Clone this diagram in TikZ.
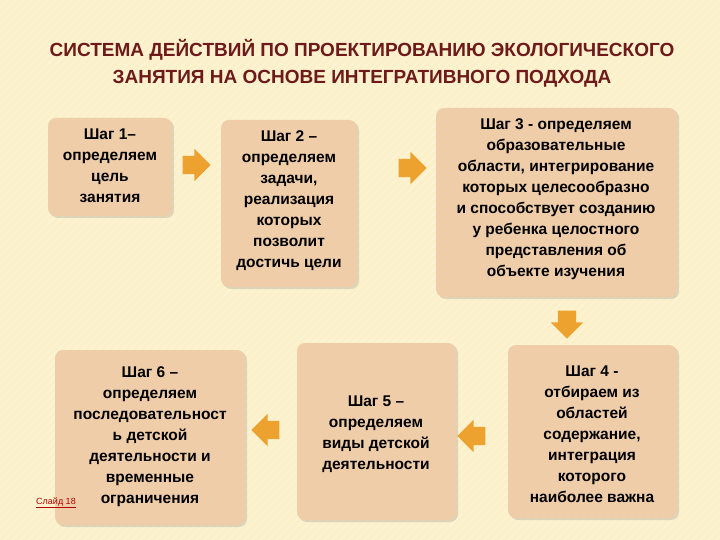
\documentclass[tikz,border=0pt]{standalone}
\usepackage{fontspec}
\setmainfont{Liberation Sans}
\usetikzlibrary{shapes.arrows,shadows}
\definecolor{bg}{HTML}{FBF0C8}
\definecolor{boxc}{HTML}{EFCDA8}
\definecolor{arr}{HTML}{EDA12F}
\definecolor{ttl}{HTML}{6E1A1A}
\tikzset{
 stepbox/.style={fill=boxc,rounded corners=8pt,drop shadow={opacity=0.25,shadow xshift=2pt,shadow yshift=-2pt}},
 txt/.style={align=center,anchor=north,font=\fontsize{15.5}{21}\selectfont\bfseries},
 blk/.style={single arrow,fill=arr,inner xsep=0pt,inner ysep=9pt,single arrow head extend=7pt,single arrow tip angle=90,minimum height=28pt},
}
\begin{document}
\begin{tikzpicture}[x=1pt,y=-1pt]
\useasboundingbox (0,0) rectangle (720,540);
\fill[bg] (0,0) rectangle (720,540);
\foreach \i in {0,8,...,1300}{\draw[white,opacity=0.25,line width=2pt] (\i,0) -- (\i-540,540);}
\node[font=\fontsize{19}{27}\selectfont\bfseries,text=ttl,align=center] (title) at (362,63) {СИСТЕМА ДЕЙСТВИЙ ПО ПРОЕКТИРОВАНИЮ ЭКОЛОГИЧЕСКОГО\\ЗАНЯТИЯ НА ОСНОВЕ ИНТЕГРАТИВНОГО ПОДХОДА};
\path[stepbox] (48,118) rectangle (172,216);
\path[stepbox] (221,120) rectangle (357,287);
\path[stepbox] (436,108) rectangle (677,297);
\path[stepbox] (508,345) rectangle (677,518);
\path[stepbox] (297,343) rectangle (456,520);
\path[stepbox] (55,350) rectangle (245,525);
\node[txt] (s1) at (110,125) {Шаг 1–\\определяем\\цель\\занятия};
\node[txt] (s2) at (289,127) {Шаг 2 –\\определяем\\задачи,\\реализация\\которых\\позволит\\достичь цели};
\node[txt] (s3) at (556,115) {Шаг 3 - определяем\\образовательные\\области, интегрирование\\которых целесообразно\\и способствует созданию\\у ребенка целостного\\представления об\\объекте изучения};
\node[txt] (s4) at (592,362) {Шаг 4 -\\отбираем из\\областей\\содержание,\\интеграция\\которого\\наиболее важна};
\node[txt] (s5) at (376,392) {Шаг 5 –\\определяем\\виды детской\\деятельности};
\node[txt] (s6) at (150,363) {Шаг 6 –\\определяем\\последовательност\\ь детской\\деятельности и\\временные\\ограничения};
\node[font=\fontsize{9}{10}\selectfont,text=red!70!black] (sl) at (56,503) {\underline{Слайд 18}};
\node[blk] (a1) at (192,165) {};
\node[blk] (a2) at (408,168) {};
\node[blk,rotate=-90] (a3) at (567,320) {};
\node[blk,rotate=180] (a4) at (476,436) {};
\node[blk,rotate=180] (a5) at (270,430) {};
\end{tikzpicture}
\end{document}
